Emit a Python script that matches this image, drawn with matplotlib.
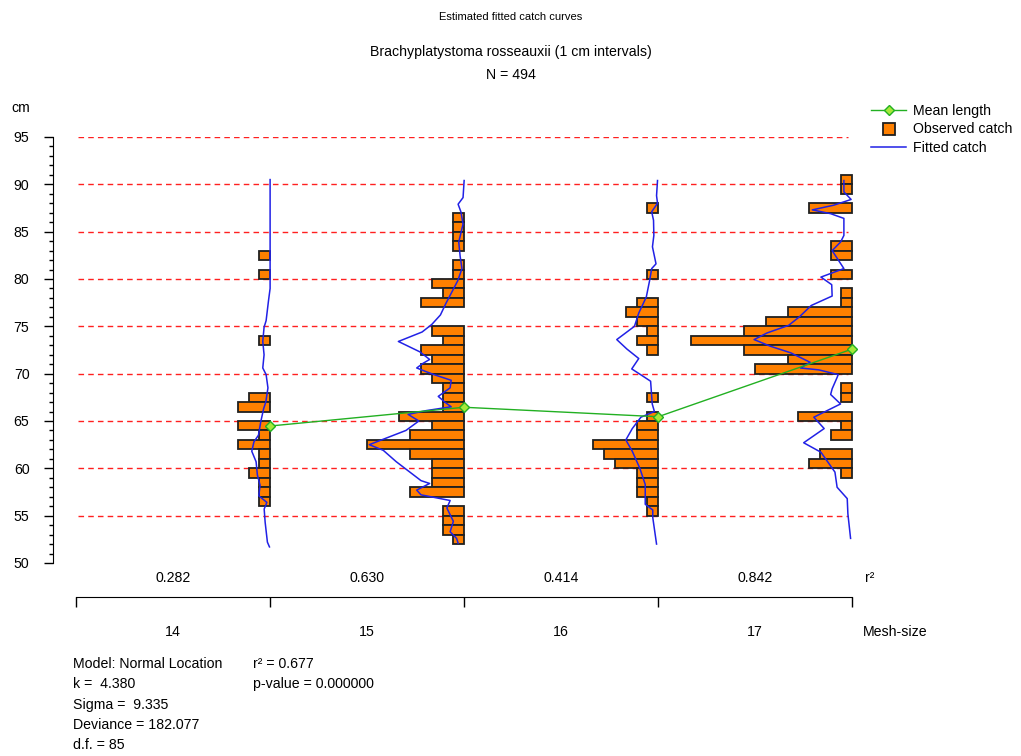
import matplotlib
matplotlib.use('Agg')
from matplotlib import pyplot as plt
from matplotlib.lines import Line2D

plt.rcParams['font.family'] = ['Liberation Sans', 'DejaVu Sans']
plt.rcParams['font.size'] = 10.2

MESH_SIZES = ['14', '15', '16', '17']
R2_VALUES = ['0.282', '0.630', '0.414', '0.842']
MEAN_LENGTH = [64.47, 66.45, 65.45, 72.6]

# observed catch: lower bound of 1 cm length class -> number in class
bins_14 = [82, 80, 73, 67, 66, 64, 63, 62, 61, 60, 59, 58, 57, 56]
counts_14 = [1, 1, 1, 2, 3, 3, 1, 3, 1, 1, 2, 1, 1, 1]
bins_15 = [86, 85, 84, 83, 81, 80, 79, 78, 77, 74, 73, 72, 71, 70, 69, 68, 67, 66,
           65, 64, 63, 62, 61, 60, 59, 58, 57, 55, 54, 53, 52]
counts_15 = [1, 1, 1, 1, 1, 1, 3, 2, 4, 3, 2, 4, 3, 4, 3, 2, 2, 2,
             6, 3, 5, 9, 5, 3, 3, 3, 5, 2, 2, 2, 1]
bins_16 = [87, 80, 77, 76, 75, 74, 73, 72, 67, 65, 64, 63, 62, 61, 60, 59, 58, 57, 56, 55]
counts_16 = [1, 1, 2, 3, 2, 1, 2, 1, 1, 1, 2, 2, 6, 5, 4, 2, 2, 2, 1, 1]
bins_17 = [90, 89, 87, 83, 82, 80, 78, 77, 76, 75, 74, 73, 72, 71, 70, 68, 67,
           65, 64, 63, 61, 60, 59]
counts_17 = [1, 1, 4, 2, 2, 2, 1, 1, 6, 8, 10, 15, 10, 6, 9, 1, 1,
             5, 1, 2, 3, 4, 1]

# fitted catch: length (cm) and expected number
fit_len_14 = [90.5, 79.0, 77.7, 75.6, 74.9, 73.4, 72.0, 70.6, 69.9, 68.5, 67.0, 66.3, 64.9,
              63.5, 62.8, 61.8, 60.7, 59.3, 58.2, 57.1, 56.4, 55.7, 54.3, 52.2, 51.7]
fit_n_14 = [0.0, 0.0, 0.15, 0.37, 0.56, 0.68, 0.56, 0.68, 0.37, 0.2, 0.4, 0.6, 0.87,
            1.08, 1.5, 1.7, 1.3, 1.18, 0.93, 1.05, 0.3, 0.55, 0.46, 0.25, 0.06]
fit_len_15 = [90.4, 88.6, 87.9, 87.1, 85.8, 83.9, 82.4, 81.1, 79.8, 78.6, 77.4, 76.2, 75.2,
              74.4, 73.4, 72.3, 71.5, 71.1, 70.6, 70.2, 69.9, 69.3, 68.5, 67.6, 67.0, 66.5,
              66.1, 65.7, 65.0, 64.0, 62.5, 61.9, 60.7, 58.7, 58.4, 57.7, 57.2, 56.6, 55.8,
              54.4, 53.3, 52.6, 52.1]
fit_n_15 = [0.0, 0.1, 0.56, 0.3, 0.1, 0.5, 0.37, 0.2, 0.6, 1.15, 1.7, 2.2, 3.0,
            3.9, 6.1, 4.1, 3.2, 3.8, 4.4, 3.5, 2.8, 1.2, 1.3, 2.4, 1.8, 1.2,
            3.5, 5.2, 4.2, 5.4, 8.8, 7.5, 6.3, 4.0, 3.2, 4.4, 4.0, 1.3, 1.6,
            1.0, 1.3, 0.7, 0.56]
fit_len_16 = [90.4, 88.8, 88.0, 87.1, 86.2, 84.6, 83.4, 81.6, 81.1, 79.8, 78.1, 76.4, 75.0,
              73.6, 72.6, 71.6, 70.5, 69.8, 69.2, 67.9, 66.8, 66.0, 65.4, 64.2, 63.0, 61.8,
              60.0, 58.3, 57.0, 56.2, 55.6, 54.8, 52.0]
fit_n_16 = [0.06, 0.15, 0.06, 0.6, 0.43, 0.4, 0.53, 0.2, 0.6, 0.8, 1.1, 1.8, 2.2,
            3.84, 2.9, 1.8, 2.45, 1.5, 0.7, 0.62, 0.55, 0.35, 1.6, 2.4, 3.0, 2.4,
            1.7, 1.2, 1.2, 1.2, 0.5, 0.5, 0.15]
fit_len_17 = [90.4, 89.2, 88.4, 87.8, 87.3, 86.9, 86.4, 84.6, 83.9, 83.0, 81.1, 80.2, 79.4,
              78.2, 77.2, 76.0, 75.1, 74.3, 73.6, 72.9, 72.2, 71.2, 70.6, 70.4, 69.9, 69.6,
              68.4, 67.8, 66.8, 65.4, 64.2, 62.7, 61.7, 59.6, 58.0, 56.8, 55.2, 52.6]
fit_n_17 = [0.77, 0.77, 0.1, 1.7, 3.7, 2.0, 0.77, 0.77, 1.08, 1.86, 0.77, 2.9, 1.9,
            1.86, 3.8, 4.9, 5.9, 7.9, 9.1, 7.6, 5.7, 3.9, 4.8, 3.1, 1.3, 1.4,
            1.86, 2.0, 1.08, 3.56, 2.6, 4.5, 2.9, 1.6, 1.4, 0.46, 0.4, 0.15]

OBSERVED = [(bins_14, counts_14), (bins_15, counts_15), (bins_16, counts_16), (bins_17, counts_17)]
FITTED = [(fit_len_14, fit_n_14), (fit_len_15, fit_n_15), (fit_len_16, fit_n_16), (fit_len_17, fit_n_17)]

COLUMN_WIDTH = 18   # count units between mesh-size baselines
ORANGE = '#ff8000'
BLUE = '#2121e6'
GREEN = '#22b022'
RED = '#ff2020'


def draw_catch(ax):
    baselines = [COLUMN_WIDTH * (i + 1) for i in range(len(MESH_SIZES))]
    ax.hlines(range(55, 96, 5), 0.15, 71.6, colors=RED, linewidth=1,
              linestyles=(0, (4, 3)), zorder=1)
    for base, (bins, counts) in zip(baselines, OBSERVED):
        ax.barh(bins, counts, left=[base - c for c in counts], height=1, align='edge',
                color=ORANGE, edgecolor='#202020', linewidth=1.3, zorder=2)
    for base, (lens, ns) in zip(baselines, FITTED):
        ax.plot([base - n for n in ns], lens, color=BLUE, linewidth=1.1, zorder=3)
    ax.plot(baselines, MEAN_LENGTH, color=GREEN, linewidth=1, marker='D', markersize=5.5,
            markerfacecolor='#a6e83a', markeredgecolor=GREEN, zorder=4, clip_on=False)
    return ax


def main():
    fig = plt.figure(figsize=(10.21, 7.56), dpi=100)
    ax = fig.add_axes([0.0516, 0.2553, 0.7989, 0.5635])
    ax.set_xlim(-2.17, 73.5)
    ax.set_ylim(50, 95)
    draw_catch(ax)

    for side in ['top', 'right', 'bottom']:
        ax.spines[side].set_visible(False)
    ax.spines['left'].set_bounds(50, 95)
    ax.set_xticks([])
    ax.set_yticks(range(50, 96, 5))
    ax.set_yticks(range(50, 96), minor=True)
    ax.tick_params(axis='y', which='major', length=6.7, width=1, pad=10)
    ax.tick_params(axis='y', which='minor', length=3.1, width=1)

    # mesh-size bracket under the plot
    ax2 = fig.add_axes([0.0516, 0.1402, 0.7989, 0.0701])
    ax2.set_xlim(-2.17, 73.5)
    ax2.set_ylim(0, 1)
    for side in ['left', 'right', 'bottom']:
        ax2.spines[side].set_visible(False)
    ax2.spines['top'].set_bounds(0, 72)
    ax2.set_yticks([])
    ax2.set_xticks([COLUMN_WIDTH * i for i in range(5)], labels=[])
    ax2.tick_params(axis='x', top=True, bottom=False, direction='in', length=7.2, width=1)
    ax2.patch.set_visible(False)
    tr = ax2.get_xaxis_transform()
    for i, (mesh, r2) in enumerate(zip(MESH_SIZES, R2_VALUES)):
        x = COLUMN_WIDTH * i + COLUMN_WIDTH / 2
        ax2.text(x, 1.358, r2, transform=tr, ha='center', va='center')
        ax2.text(x, 0.34, mesh, transform=tr, ha='center', va='center')
    ax2.text(73.2, 1.358, 'r²', transform=tr, ha='left', va='center')
    ax2.text(73.0, 0.34, 'Mesh-size', transform=tr, ha='left', va='center')

    fig.text(0.5, 0.9775, 'Estimated fitted catch curves', ha='center', va='center', fontsize=8)
    fig.text(0.5, 0.9312, 'Brachyplatystoma rosseauxii (1 cm intervals)', ha='center', va='center')
    fig.text(0.5, 0.9008, 'N = 494', ha='center', va='center')
    fig.text(0.0108, 0.857, 'cm', ha='left', va='center')

    stats_left = ['Model: Normal Location', 'k =  4.380', 'Sigma =  9.335',
                  'Deviance = 182.077', 'd.f. = 85']
    stats_right = ['r² = 0.677', 'p-value = 0.000000']
    for i, s in enumerate(stats_left):
        fig.text(0.0715, 1 - (664 + 20.25 * i) / 756, s, ha='left', va='center')
    for i, s in enumerate(stats_right):
        fig.text(0.2478, 1 - (664 + 20.25 * i) / 756, s, ha='left', va='center')

    handles = [
        Line2D([], [], color=GREEN, linewidth=1, marker='D', markersize=5.5,
               markerfacecolor='#a6e83a', markeredgecolor=GREEN),
        Line2D([], [], linestyle='none', marker='s', markersize=9,
               markerfacecolor=ORANGE, markeredgecolor='#202020', markeredgewidth=1.3),
        Line2D([], [], color=BLUE, linewidth=1.1),
    ]
    fig.legend(handles, ['Mean length', 'Observed catch', 'Fitted catch'],
               loc='upper left', bbox_to_anchor=(0.853, 0.8625), frameon=False,
               handlelength=2.5, handletextpad=0.45, labelspacing=0.32,
               borderpad=0, borderaxespad=0, numpoints=1)

    plt.savefig('out.png', dpi=100)
    plt.close('all')


if __name__ == '__main__':
    main()
